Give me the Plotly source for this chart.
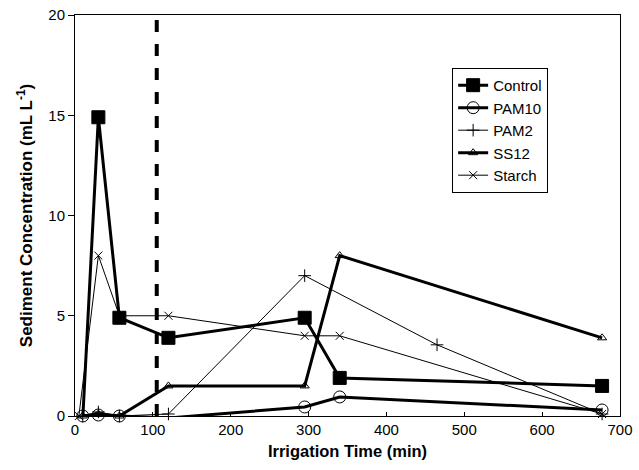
import plotly.graph_objects as go

# Data
control_t = [10, 30, 57, 120, 295, 340, 677]
control_v = [-0.1, 14.9, 4.9, 3.9, 4.9, 1.9, 1.5]

pam10_t = [10, 30, 57, 120, 295, 340, 677]
pam10_v = [0.0, 0.05, 0.0, -0.1, 0.45, 0.95, 0.3]

pam2_t = [10, 30, 57, 120, 295, 465, 677]
pam2_v = [0.0, 0.2, 0.0, 0.1, 7.0, 3.55, 0.1]

ss12_t = [10, 30, 57, 120, 295, 340, 677]
ss12_v = [0.0, 0.1, 0.0, 1.5, 1.5, 8.0, 3.9]

starch_t = [5, 30, 57, 120, 295, 340, 677]
starch_v = [0.0, 8.0, 5.0, 5.0, 4.0, 4.0, 0.1]

x_ticks = [0, 100, 200, 300, 400, 500, 600, 700]
y_ticks = [0, 5, 10, 15, 20]

switch_time = 105  # dashed vertical reference line

series = [
    ("Control", control_t, control_v, "square", 13, 3),
    ("PAM10", pam10_t, pam10_v, "circle-open", 12, 3),
    ("PAM2", pam2_t, pam2_v, "cross-thin-open", 9, 1),
    ("SS12", ss12_t, ss12_v, "triangle-up-open", 8, 3),
    ("Starch", starch_t, starch_v, "x-thin-open", 8, 1),
]

fig = go.Figure()
for name, t, v, sym, size, lw in series:
    fig.add_trace(go.Scatter(
        x=t, y=v, name=name, mode="lines+markers",
        line=dict(color="black", width=lw),
        marker=dict(symbol=sym, size=size, color="black",
                    line=dict(color="black", width=1)),
        cliponaxis=False,
    ))

fig.add_shape(type="line", x0=switch_time, x1=switch_time, y0=0, y1=20,
              xref="x", yref="y", line=dict(color="black", width=4, dash="dash"))

font = "Liberation Sans, Arial, sans-serif"
fig.update_layout(
    width=639, height=470,
    margin=dict(l=75, r=19, t=15, b=54, autoexpand=False),
    paper_bgcolor="white", plot_bgcolor="white",
    font=dict(family=font, size=15, color="black"),
    showlegend=True,
    legend=dict(x=0.692, y=0.868, xanchor="left", yanchor="top",
                bordercolor="black", borderwidth=1, bgcolor="white",
                font=dict(size=15), tracegroupgap=0, itemwidth=30),
    xaxis=dict(range=[0, 700], tickvals=x_ticks,
               showgrid=False, zeroline=False, showline=True, linecolor="black",
               linewidth=1, mirror=True, ticks="inside", ticklen=4,
               tickcolor="black", tickfont=dict(size=15),
               title=dict(text="<b>Irrigation Time (min)</b>", font=dict(size=16.5), standoff=8)),
    yaxis=dict(range=[0, 20], tickvals=y_ticks,
               showgrid=False, zeroline=False, showline=True, linecolor="black",
               linewidth=1, mirror=True, ticks="outside", ticklen=6,
               tickcolor="black", tickfont=dict(size=15),
               title=dict(text="<b>Sediment Concentration (mL L<sup>-1</sup>)</b>",
                          font=dict(size=17), standoff=11)),
)

fig.write_html("out.html",
               config={"displayModeBar": False},
               post_script="document.body.style.margin='0';document.body.style.overflow='hidden';")
